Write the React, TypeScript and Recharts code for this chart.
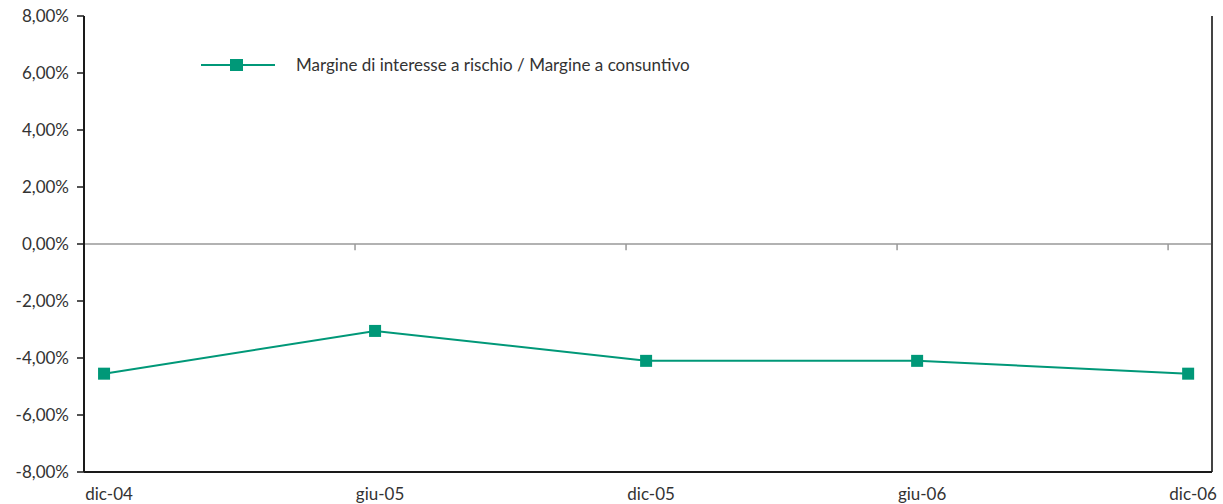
import React from 'react';
import { Line, LineChart, ReferenceLine, XAxis, YAxis } from 'recharts';

const categories = ['dic-04', 'giu-05', 'dic-05', 'giu-06', 'dic-06'];
const ratioValues = [-4.55, -3.05, -4.1, -4.1, -4.55];
const yTicks = [-8, -6, -4, -2, 0, 2, 4, 6, 8];
const seriesName = 'Margine di interesse a rischio / Margine a consuntivo';

const GREEN = '#009878';
const FONT = 'Lato, "Open Sans", sans-serif';

// x is a numeric index so the markers sit between the odd Excel-style tick marks
const X_MIN = -0.074;
const X_MAX = 4.088;
const midTicks = [0.926, 1.926, 2.926, 3.926];

const data = categories.map((c, i) => ({ idx: i, label: c, value: ratioValues[i] }));

const fmtPct = (v: number) => `${v.toFixed(2).replace('.', ',')}%`;

const XTick = (props: any) => {
  const { x, y, payload } = props;
  return (
    <text x={x + 5} y={y + 20} textAnchor="middle" fill="#333" fontSize={17} fontFamily={FONT}>
      {categories[payload.value]}
    </text>
  );
};

const YTick = (props: any) => {
  const { x, y, payload } = props;
  return (
    <text x={x - 6} y={y + 6} textAnchor="end" fill="#333" fontSize={17} fontFamily={FONT}>
      {fmtPct(payload.value)}
    </text>
  );
};

const SquareDot = (props: any) => {
  const { cx, cy, index } = props;
  return <rect key={index} x={cx - 6} y={cy - 6} width={12} height={12} fill={GREEN} />;
};

export default function App() {
  return (
    <div style={{ position: 'absolute', left: 0, top: 0, width: 1223, height: 504, background: '#fff' }}>
      <LineChart width={1223} height={504} data={data} margin={{ top: 16, right: 11, bottom: 0, left: 0 }}>
        <XAxis
          dataKey="idx"
          type="number"
          domain={[X_MIN, X_MAX]}
          ticks={[0, 1, 2, 3, 4]}
          allowDataOverflow
          axisLine={{ stroke: '#1a1a1a', strokeWidth: 2 }}
          tickLine={false}
          tick={<XTick />}
          height={32}
        />
        <YAxis
          type="number"
          domain={[-8, 8]}
          ticks={yTicks}
          width={84}
          axisLine={{ stroke: '#1a1a1a', strokeWidth: 2 }}
          tickLine={{ stroke: '#1a1a1a', strokeWidth: 1.5 }}
          tickSize={7}
          tick={<YTick />}
        />
        <ReferenceLine y={0} stroke="#999" strokeWidth={1.5} />
        <ReferenceLine x={X_MAX} stroke="#444" strokeWidth={2} />
        {midTicks.map((t) => (
          <ReferenceLine
            key={t}
            segment={[{ x: t, y: 0 }, { x: t, y: -0.22 }]}
            stroke="#999"
            strokeWidth={1.5}
          />
        ))}
        <Line
          dataKey="value"
          name={seriesName}
          stroke={GREEN}
          strokeWidth={2}
          dot={<SquareDot />}
          activeDot={false}
          isAnimationActive={false}
        />
      </LineChart>
      <div
        style={{
          position: 'absolute',
          left: 200,
          top: 54,
          display: 'flex',
          alignItems: 'center',
          fontFamily: FONT,
          fontSize: 17,
          color: '#333',
          whiteSpace: 'nowrap',
        }}
      >
        <svg width={76} height={14}>
          <line x1={1} y1={7} x2={75} y2={7} stroke={GREEN} strokeWidth={2} />
          <rect x={30} y={1} width={13} height={12} fill={GREEN} />
        </svg>
        <span style={{ marginLeft: 20 }}>{seriesName}</span>
      </div>
    </div>
  );
}
